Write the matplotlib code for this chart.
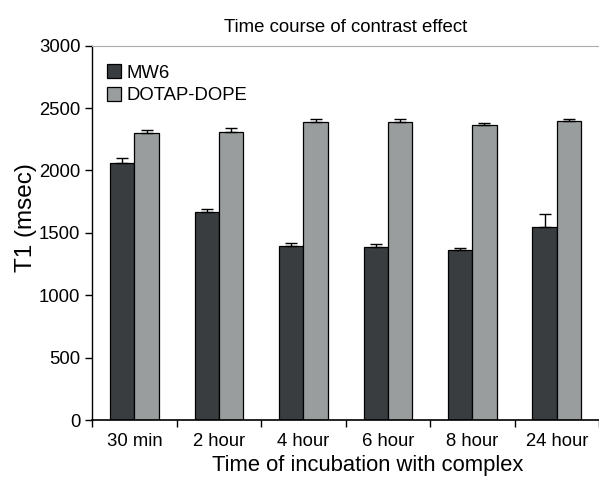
import matplotlib
matplotlib.use('Agg')
import matplotlib.pyplot as plt
import numpy as np

plt.rcParams['font.family'] = ['Liberation Sans', 'DejaVu Sans']

categories = ['30 min', '2 hour', '4 hour', '6 hour', '8 hour', '24 hour']
mw6 = [2060, 1670, 1395, 1390, 1365, 1550]
mw6_err = [40, 20, 25, 20, 10, 100]
dotap = [2300, 2310, 2390, 2390, 2365, 2395]
dotap_err = [25, 30, 20, 20, 12, 15]

x = np.arange(len(categories))
w = 0.288

fig = plt.figure(figsize=(5.99, 4.78), dpi=100)
ax = fig.add_axes([0.154, 0.1213, 0.846, 0.7831])

ax.bar(x - w / 2, mw6, w, color='#3a3d3f', edgecolor='black', linewidth=0.9,
       yerr=[np.zeros(len(mw6)), mw6_err], capsize=4,
       error_kw=dict(ecolor='black', elinewidth=1, capthick=1), label='MW6')
ax.bar(x + w / 2, dotap, w, color='#9a9d9d', edgecolor='black', linewidth=0.9,
       yerr=[np.zeros(len(dotap)), dotap_err], capsize=4,
       error_kw=dict(ecolor='black', elinewidth=1, capthick=1), label='DOTAP-DOPE')

ax.set_xlim(-0.5, len(categories) - 0.5)
ax.set_ylim(0, 3000)
ax.set_yticks(np.arange(0, 3001, 500))
ax.set_xticks(x)
ax.set_xticklabels(categories)
ax.set_xticks(np.arange(-0.5, len(categories)), minor=True)
ax.tick_params(axis='x', which='major', length=0, pad=9, labelsize=13.3)
ax.tick_params(axis='x', which='minor', length=5, width=1, direction='out')
ax.tick_params(axis='y', length=5, width=1, direction='out', labelsize=13.3)

ax.spines['right'].set_visible(False)
ax.spines['top'].set_color('#aaaaaa')
ax.spines['left'].set_linewidth(1)
ax.spines['bottom'].set_linewidth(1.2)

ax.set_title('Time course of contrast effect', fontsize=13.4, pad=10)
ax.set_xlabel('Time of incubation with complex', fontsize=15.8)
ax.set_ylabel('T1 (msec)', fontsize=17.5)
ax.xaxis.set_label_coords(0.543, -0.093)
ax.yaxis.set_label_coords(-0.11, 0.54)

ax.legend(loc='upper left', bbox_to_anchor=(0.015, 0.97), frameon=False,
          fontsize=13.3, handlelength=0.75, handleheight=0.75,
          handletextpad=0.3, labelspacing=0.3, borderaxespad=0)

fig.savefig('out.png', dpi=100)
